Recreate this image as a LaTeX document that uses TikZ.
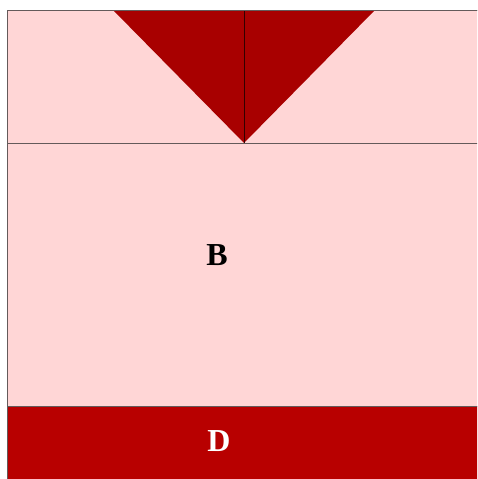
\documentclass[tikz,border=0pt]{standalone}
\usepackage{fontspec}
\setmainfont{Liberation Serif}
\definecolor{panelPink}{RGB}{255, 214, 214}
\definecolor{wedgeRed}{RGB}{168, 0, 0}
\definecolor{baseRed}{RGB}{184, 0, 0}
\definecolor{edgeGray}{RGB}{100, 90, 90}

\begin{document}
\begin{tikzpicture}[x=1pt, y=-1pt]
      \useasboundingbox (0,0) rectangle (477,479);
      \clip (0,0) rectangle (477,479);

      % Main panel
      \draw[edgeGray, fill=panelPink] (7,10) rectangle (490,490);

      % Bottom band
      \draw[edgeGray, fill=baseRed] (7,406) rectangle (490,490);

      % Divider of the top band
      \draw[edgeGray] (7,143) -- (490,143);

      % Wedge, split in the middle
      \fill[wedgeRed] (113,10) -- (375,10) -- (244,143) -- cycle;
      \draw[black!70!wedgeRed] (244,10) -- (244,143);
      \draw[edgeGray] (7,10) -- (490,10);

      % Labels
      \node[font=\bfseries\fontsize{32}{32}\selectfont] (labB) at (217,255) {B};
      \node[white, font=\bfseries\fontsize{32}{32}\selectfont] (labD) at (219,441) {D};
    \end{tikzpicture}
\end{document}
